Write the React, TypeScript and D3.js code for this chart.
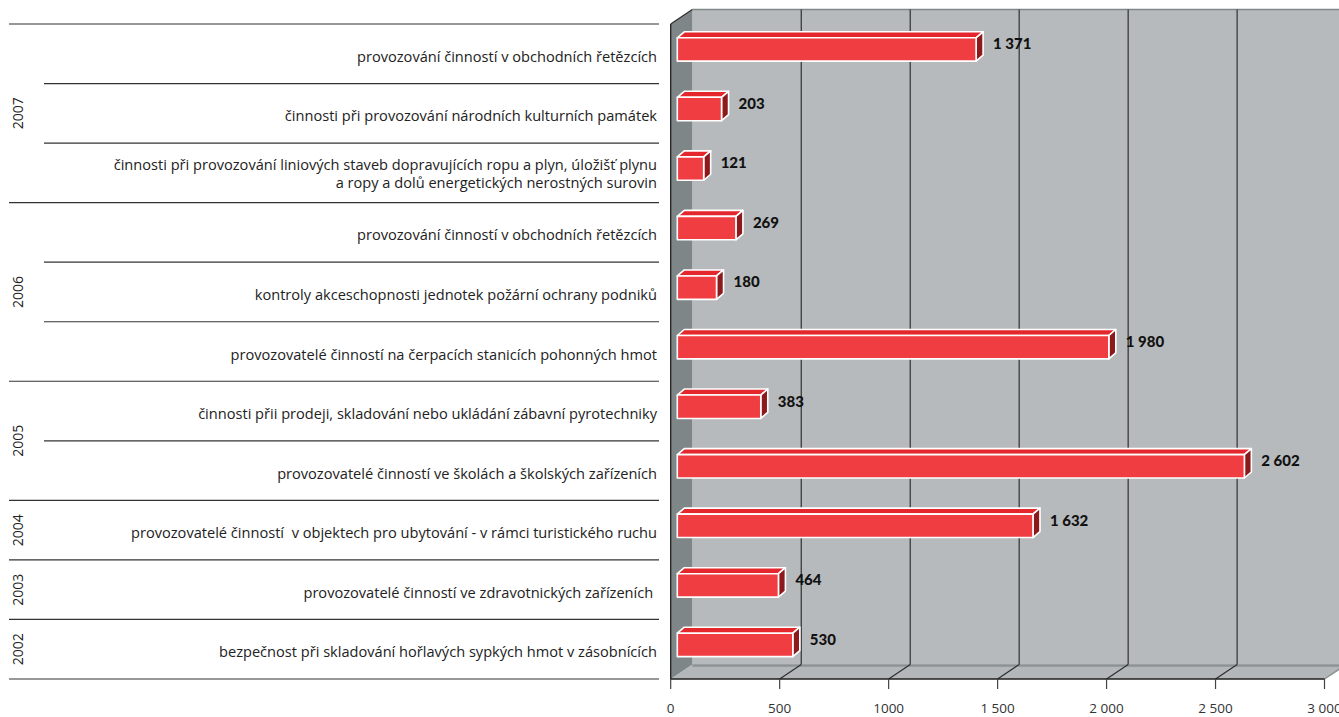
import React from "react";
import * as d3 from "d3";

const categories: string[][] = [
  ["provozování činností v obchodních řetězcích"],
  ["činnosti při provozování národních kulturních památek"],
  [
    "činnosti při provozování liniových staveb dopravujících ropu a plyn, úložišť plynu",
    "a ropy a dolů energetických nerostných surovin",
  ],
  ["provozování činností v obchodních řetězcích"],
  ["kontroly akceschopnosti jednotek požární ochrany podniků"],
  ["provozovatelé činností na čerpacích stanicích pohonných hmot"],
  ["činnosti přii prodeji, skladování nebo ukládání zábavní pyrotechniky"],
  ["provozovatelé činností ve školách a školských zařízeních"],
  ["provozovatelé činností\u00a0 v objektech pro ubytování - v rámci turistického ruchu"],
  ["provozovatelé činností ve zdravotnických zařízeních\u00a0"],
  ["bezpečnost při skladování hořlavých sypkých hmot v zásobnících"],
];
const values: number[] = [1371, 203, 121, 269, 180, 1980, 383, 2602, 1632, 464, 530];
const years: string[] = ["2007", "2006", "2005", "2004", "2003", "2002"];
const yearRows: number[] = [3, 3, 2, 1, 1, 1];
const tickValues: number[] = [0, 500, 1000, 1500, 2000, 2500, 3000];
const tickLabels: string[] = ["0", "500", "1000", "1 500", "2 000", "2 500", "3 000"];

const W = 1339;
const H = 717;
const WX = 21.6; // wall depth
const WY = 14.5;
const BX = 6.6; // bar offset from front plane
const BY = 4.3;
const DX = 7; // bar depth
const DY = 6;
const BAR_H = 23.4;

const locale = d3.formatLocale({ decimal: ",", thousands: " ", grouping: [3], currency: ["", ""] });
const fmt = locale.format(",d");

export default function App() {
  const x = d3.scaleLinear().domain([0, 3000]).range([670.7, 1324.5]);
  const idx = categories.map((_, i) => i);
  const y = d3.scaleBand<number>().domain(idx).range([24, 679]).padding(0);
  const bw = y.bandwidth();
  const x0 = x(0);
  const top = y.range()[0];
  const floorY = y.range()[1];

  const groupStarts: number[] = [];
  let acc = 0;
  yearRows.forEach((n) => {
    groupStarts.push(acc);
    acc += n;
  });

  const catFont = "'Open Sans', Lato, sans-serif";

  return (
    <svg width={W} height={H} style={{ position: "absolute", left: 0, top: 0, background: "#fff" }}>
      {/* back wall */}
      <rect x={x0 + WX} y={top - WY} width={W} height={floorY - top} fill="#b7babc" />
      <line x1={x0 + WX} x2={W} y1={top - WY} y2={top - WY} stroke="#7f8789" strokeWidth={1.6} />
      {/* floor */}
      <polygon
        points={`${x0},${floorY} ${x(3000)},${floorY} ${x(3000) + WX},${floorY - WY} ${x0 + WX},${floorY - WY}`}
        fill="#b4b7b9"
      />
      <line x1={x0 + WX} x2={W} y1={floorY - WY + 1} y2={floorY - WY + 1} stroke="#8d9294" strokeWidth={2.5} />
      {/* left wall */}
      <polygon
        points={`${x0},${top} ${x0 + WX},${top - WY} ${x0 + WX},${floorY - WY} ${x0},${floorY}`}
        fill="#7e8688"
      />
      {/* grid lines on back wall */}
      {tickValues.slice(1).map((t) => (
        <line key={"g" + t} x1={x(t) + WX} x2={x(t) + WX} y1={top - WY} y2={floorY - WY} stroke="#3a3a3a" strokeWidth={1.3} />
      ))}
      {/* floor diagonals */}
      {tickValues.slice(1, -1).map((t) => (
        <line key={"d" + t} x1={x(t)} y1={floorY} x2={x(t) + WX} y2={floorY - WY} stroke="#2e2e2e" strokeWidth={1.2} />
      ))}
      <line x1={x(3000)} y1={floorY} x2={x(3000) + WX} y2={floorY - WY} stroke="#8d9294" strokeWidth={1.5} />
      {/* wall edges */}
      <line x1={x0} y1={top} x2={x0 + WX} y2={top - WY} stroke="#2e2e2e" strokeWidth={1.2} />
      <line x1={x0} y1={top} x2={x0} y2={floorY} stroke="#1e1e1e" strokeWidth={1.3} />
      <line x1={x0} y1={floorY} x2={x(3000)} y2={floorY} stroke="#1e1e1e" strokeWidth={1.3} />
      {/* ticks */}
      {tickValues.map((t, i) => (
        <g key={"t" + t}>
          <line x1={x(t)} x2={x(t)} y1={floorY} y2={floorY + 10} stroke="#444" strokeWidth={1.2} />
          <text x={x(t)} y={floorY + 34} textAnchor="middle" fontFamily={catFont} fontSize={13.5} fill="#333">
            {tickLabels[i]}
          </text>
        </g>
      ))}

      {/* bars */}
      {values.map((v, i) => {
        const bx0 = x0 + BX;
        const bx1 = x(v) + BX;
        const cy = (y(i) as number) + bw / 2 - BY;
        const t = cy - BAR_H / 2;
        const b = cy + BAR_H / 2;
        return (
          <g key={"b" + i} stroke="#fff" strokeWidth={1.6} strokeLinejoin="round">
            <polygon points={`${bx0},${t} ${bx0 + DX},${t - DY} ${bx1 + DX},${t - DY} ${bx1},${t}`} fill="#e3272c" />
            <polygon points={`${bx1},${t} ${bx1 + DX},${t - DY} ${bx1 + DX},${b - DY} ${bx1},${b}`} fill="#8c1a1d" />
            <rect x={bx0} y={t} width={bx1 - bx0} height={BAR_H} fill="#ef3d42" />
            <text
              x={bx1 + DX + 10}
              y={t + 5.5}
              dominantBaseline="central"
              stroke="none"
              fontFamily="Lato, sans-serif"
              fontWeight={900}
              fontSize={15}
              fill="#111"
            >
              {fmt(v)}
            </text>
          </g>
        );
      })}

      {/* separators */}
      {d3.range(categories.length + 1).map((k) => {
        const yy = k < categories.length ? (y(k) as number) : floorY;
        const full = k === categories.length || groupStarts.includes(k);
        return <line key={"s" + k} x1={full ? 9 : 44} x2={659} y1={yy} y2={yy} stroke="#333" strokeWidth={1.2} />;
      })}

      {/* category labels */}
      {categories.map((lines, i) => {
        const cy = (y(i) as number) + bw / 2;
        const lh = 18;
        const off = lines.length > 1 ? 6.5 : 8;
        return (
          <text key={"c" + i} textAnchor="end" fontFamily={catFont} fontSize={14.6} fill="#222">
            {lines.map((ln, j) => (
              <tspan key={j} x={657} y={cy + off + (j - (lines.length - 1) / 2) * lh} style={{ whiteSpace: "pre" }}>
                {ln}
              </tspan>
            ))}
          </text>
        );
      })}

      {/* year labels */}
      {years.map((yr, i) => {
        const s = groupStarts[i];
        const e = s + yearRows[i];
        const y1 = y(s) as number;
        const y2 = e < categories.length ? (y(e) as number) : floorY;
        const cy = (y1 + y2) / 2;
        return (
          <text
            key={"y" + yr}
            transform={`translate(23,${cy}) rotate(-90)`}
            textAnchor="middle"
            fontFamily={catFont}
            fontSize={14}
            fill="#222"
          >
            {yr}
          </text>
        );
      })}
    </svg>
  );
}
